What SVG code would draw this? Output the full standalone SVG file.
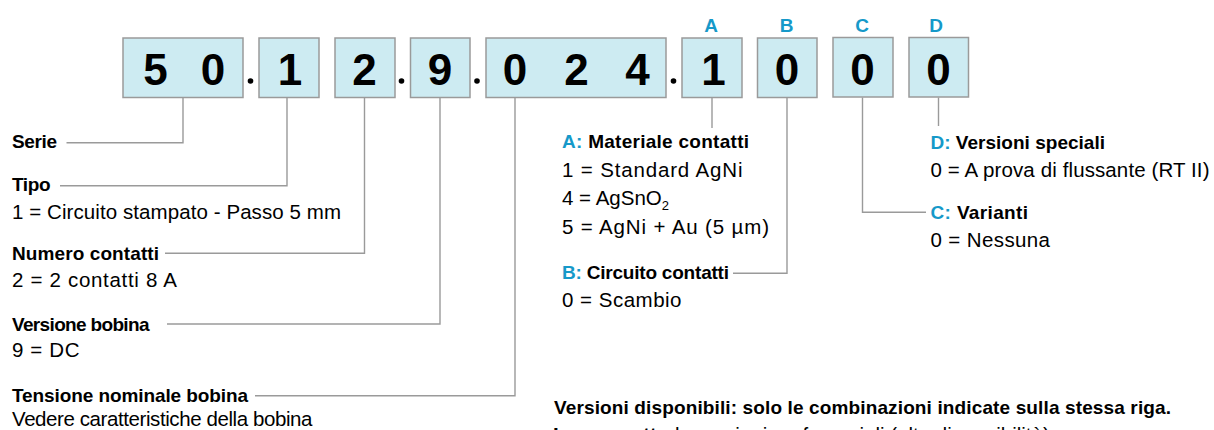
<svg xmlns="http://www.w3.org/2000/svg" width="1214" height="430" viewBox="0 0 1214 430">
<style>
.box{fill:#cdebf2;stroke:#9a9a9a;stroke-width:1.5}
.dig{font-family:"Liberation Sans",Arial,sans-serif;font-weight:700;font-size:44px;fill:#000;text-anchor:middle}
.key{font-family:"Liberation Sans",Arial,sans-serif;font-weight:700;font-size:19px;fill:#1699c9;text-anchor:middle}
.b{font-family:"Liberation Sans",Arial,sans-serif;font-weight:700;font-size:19px;fill:#000}
.r{font-family:"Liberation Sans",Arial,sans-serif;font-size:20.5px;fill:#000}
.bl{fill:#1699c9}
.bw{font-weight:700}
.conn{fill:none;stroke:#9a9a9a;stroke-width:1.4}
.dot{fill:#000}
</style>
<rect width="1214" height="430" fill="#fff"/>

<g id="code">
  <g id="box-serie"><rect class="box" x="123" y="38" width="120" height="59.5"/><text class="dig" x="155.5" y="85">5</text><text class="dig" x="213" y="85">0</text></g>
  <g id="box-tipo"><rect class="box" x="259" y="38" width="60" height="59.5"/><text class="dig" x="290" y="85">1</text></g>
  <g id="box-contatti"><rect class="box" x="335" y="38" width="60" height="59.5"/><text class="dig" x="364.5" y="85">2</text></g>
  <g id="box-bobina"><rect class="box" x="410.5" y="38" width="59.5" height="59.5"/><text class="dig" x="440" y="85">9</text></g>
  <g id="box-tensione"><rect class="box" x="486" y="38" width="180" height="59.5"/><text class="dig" x="515" y="85">0</text><text class="dig" x="576.5" y="85">2</text><text class="dig" x="637.5" y="85">4</text></g>
  <g id="box-A"><rect class="box" x="682" y="38" width="60" height="59.5"/><text class="dig" x="713.5" y="85">1</text><text class="key" x="711" y="31.5">A</text></g>
  <g id="box-B"><rect class="box" x="757.5" y="38" width="59.5" height="59.5"/><text class="dig" x="787" y="85">0</text><text class="key" x="786.5" y="31.5">B</text></g>
  <g id="box-C"><rect class="box" x="833" y="37.5" width="60" height="59.5"/><text class="dig" x="862.5" y="85">0</text><text class="key" x="862" y="31.5">C</text></g>
  <g id="box-D"><rect class="box" x="909" y="37.5" width="59.5" height="59.5"/><text class="dig" x="938.5" y="85">0</text><text class="key" x="936" y="31.5">D</text></g>
  <g id="separators">
    <circle class="dot" cx="250.5" cy="81" r="2.8"/>
    <circle class="dot" cx="401.5" cy="81" r="2.8"/>
    <circle class="dot" cx="477" cy="81" r="2.8"/>
    <circle class="dot" cx="673.5" cy="81" r="2.8"/>
  </g>
</g>

<g id="connectors">
  <path class="conn" d="M66.5 142.7H183V97.5"/>
  <path class="conn" d="M60 185.7H287V97.5"/>
  <path class="conn" d="M165 253.3H364.5V97.5"/>
  <path class="conn" d="M167 324H440V97.5"/>
  <path class="conn" d="M255 395.7H515V97.5"/>
  <path class="conn" d="M712 97.5V128"/>
  <path class="conn" d="M733 273.3H787V97.5"/>
  <path class="conn" d="M926 212.3H862.5V97.5"/>
  <path class="conn" d="M938.5 97.5V126"/>
</g>

<g id="label-serie"><text class="b" x="12" y="148" textLength="45" lengthAdjust="spacing">Serie</text></g>
<g id="label-tipo">
  <text class="b" x="12" y="190.5" textLength="38.5" lengthAdjust="spacing">Tipo</text>
  <text class="r" x="12" y="218.5" textLength="329" lengthAdjust="spacing">1 = Circuito stampato - Passo 5 mm</text>
</g>
<g id="label-contatti">
  <text class="b" x="12" y="259.5" textLength="147" lengthAdjust="spacing">Numero contatti</text>
  <text class="r" x="12" y="287" textLength="165" lengthAdjust="spacing">2 = 2 contatti 8 A</text>
</g>
<g id="label-bobina">
  <text class="b" x="12" y="330.5" textLength="137.5" lengthAdjust="spacing">Versione bobina</text>
  <text class="r" x="12" y="357" textLength="67.5" lengthAdjust="spacing">9 = DC</text>
</g>
<g id="label-tensione">
  <text class="b" x="12" y="401.5" textLength="236" lengthAdjust="spacing">Tensione nominale bobina</text>
  <text class="r" x="12" y="426" textLength="300.5" lengthAdjust="spacing">Vedere caratteristiche della bobina</text>
</g>

<g id="label-A">
  <text class="b" x="562" y="148" textLength="187" lengthAdjust="spacing"><tspan class="bl">A:</tspan> Materiale contatti</text>
  <text class="r" x="562" y="176.5" textLength="180.5" lengthAdjust="spacing">1 = Standard AgNi</text>
  <text class="r" x="562" y="205">4 = AgSnO<tspan font-size="13" dy="5">2</tspan></text>
  <text class="r" x="562" y="234" textLength="207" lengthAdjust="spacing">5 = AgNi + Au (5 µm)</text>
</g>
<g id="label-B">
  <text class="b" x="562" y="279" textLength="167" lengthAdjust="spacing"><tspan class="bl">B:</tspan> Circuito contatti</text>
  <text class="r" x="562" y="307" textLength="119.5" lengthAdjust="spacing">0 = Scambio</text>
</g>
<g id="label-D">
  <text class="b" x="930.5" y="149" textLength="174.5" lengthAdjust="spacing"><tspan class="bl">D:</tspan> Versioni speciali</text>
  <text class="r" x="930.5" y="176.5" textLength="279" lengthAdjust="spacing">0 = A prova di flussante (RT II)</text>
</g>
<g id="label-C">
  <text class="b" x="930.5" y="218.5" textLength="97.5" lengthAdjust="spacing"><tspan class="bl">C:</tspan> Varianti</text>
  <text class="r" x="930.5" y="247" textLength="119.5" lengthAdjust="spacing">0 = Nessuna</text>
</g>

<g id="note">
  <text class="b" x="554" y="414" textLength="617" lengthAdjust="spacing">Versioni disponibili: solo le combinazioni indicate sulla stessa riga.</text>
  <text class="r" x="553" y="441.5" font-size="19"><tspan class="bw">In grassetto</tspan> le versioni preferenziali (alta disponibilità).</text>
</g>
</svg>
